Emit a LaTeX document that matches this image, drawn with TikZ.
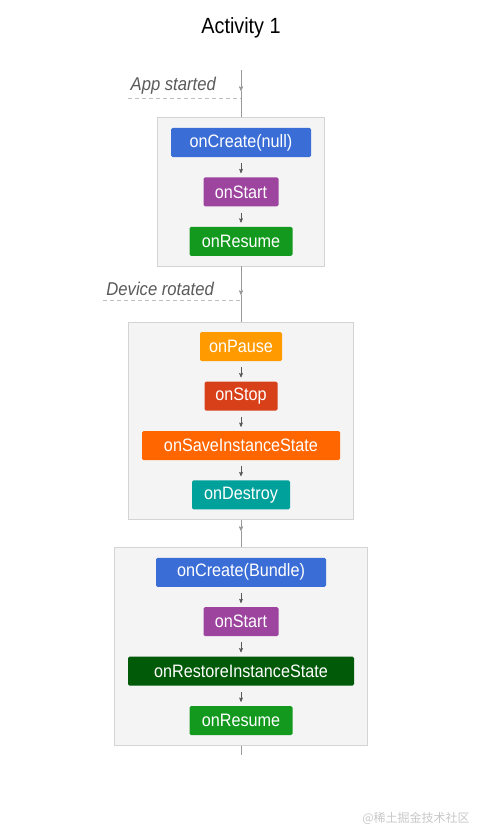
\documentclass[tikz,border=0pt]{standalone}
\usepackage{fontspec}
\setmainfont{Liberation Sans}[FakeStretch=0.9]
\newfontfamily\cjkfont{Noto Sans CJK SC}
\usetikzlibrary{arrows}
\usetikzlibrary{positioning}
\usetikzlibrary{fit,backgrounds}
\definecolor{lcblue}{HTML}{3A6DD6}
\definecolor{lcpurple}{HTML}{9C449E}
\definecolor{lcgreen}{HTML}{139A1E}
\definecolor{lcorange}{HTML}{FF9A00}
\definecolor{lcred}{HTML}{D8401A}
\definecolor{lcsave}{HTML}{FF6600}
\definecolor{lcteal}{HTML}{00A19A}
\definecolor{lcdark}{HTML}{015A07}
\definecolor{lcpanel}{HTML}{F4F4F4}
\definecolor{lcedge}{HTML}{D4D4D4}
\tikzset{
	lc_box/.style = {rectangle, rounded corners=1.5pt, inner sep=0pt,
		minimum height=29pt, text=white, font=\fontsize{18}{18}\selectfont},% callback box
	lc_grp/.style = {rectangle, draw=lcedge, fill=lcpanel, line width=0.8pt,
		inner xsep=13pt, inner ysep=10pt},% panel round a group of callbacks
	lc_lbl/.style = {inner sep=0pt, text=black!65, font=\fontsize{18.5}{18.5}\selectfont\itshape},% event label
	lc_title/.style = {inner sep=0pt, font=\fontsize{22}{22}\selectfont},
	lc_line/.style = {draw=black!40, line width=0.7pt},% main time line
	lc_dash/.style = {draw=black!25, line width=0.9pt, dash pattern=on 4pt off 3pt},
	lc_step/.style = {->, draw=black!65, line width=0.6pt, shorten <=6pt, shorten >=4pt},
	lc_mark/.style = {inner sep=0pt, text=black!22, font=\cjkfont\fontsize{12}{12}\selectfont}
}
\begin{document}
\begin{tikzpicture}[x=1pt,y=1pt,>=stealth']
\useasboundingbox (0,0) rectangle (482,-840);
\node[lc_title] (title) at (241,-28) {Activity 1};
% first start
\node[lc_box, fill=lcblue, minimum width=140pt] (create1) at (241,-142.5) {onCreate(null)};
\node[lc_box, fill=lcpurple, minimum width=75pt, below=20pt of create1] (start1) {onStart};
\node[lc_box, fill=lcgreen, minimum width=103pt, below=20pt of start1] (resume1) {onResume};
% rotation
\node[lc_box, fill=lcorange, minimum width=82pt, below=76pt of resume1] (pause) {onPause};
\node[lc_box, fill=lcred, minimum width=73pt, below=20pt of pause] (stop) {onStop};
\node[lc_box, fill=lcsave, minimum width=198pt, below=20pt of stop] (save) {onSaveInstanceState};
\node[lc_box, fill=lcteal, minimum width=98pt, below=20pt of save] (destroy) {onDestroy};
% new instance
\node[lc_box, fill=lcblue, minimum width=170pt, below=48pt of destroy] (create2) {onCreate(Bundle)};
\node[lc_box, fill=lcpurple, minimum width=75pt, below=20pt of create2] (start2) {onStart};
\node[lc_box, fill=lcdark, minimum width=226pt, below=20pt of start2] (restore) {onRestoreInstanceState};
\node[lc_box, fill=lcgreen, minimum width=103pt, below=20pt of restore] (resume2) {onResume};
\begin{scope}[on background layer]
	\node[lc_grp, fit=(create1)(start1)(resume1)] (grp1) {};
	\node[lc_grp, fit=(pause)(stop)(save)(destroy)] (grp2) {};
	\node[lc_grp, fit=(create2)(start2)(restore)(resume2)] (grp3) {};
\end{scope}
\foreach \a/\b in {create1/start1, start1/resume1, pause/stop, stop/save, save/destroy,
		create2/start2, start2/restore, restore/resume2}
	\draw[lc_step] (\a) -- (\b);
% time line
\coordinate (top) at (241,-70);
\coordinate (tip1) at (241,-91);
\coordinate (tip2) at (241,-295);
\coordinate (tip3) at (241,-531);
\coordinate (bottom) at (241,-755);
\draw[lc_line,->] (top) -- (tip1);
\draw[lc_line] (tip1) -- (grp1.north);
\draw[lc_line,->] (grp1.south) -- (tip2);
\draw[lc_line] (tip2) -- (grp2.north);
\draw[lc_line,->] (grp2.south) -- (tip3);
\draw[lc_line] (tip3) -- (grp3.north);
\draw[lc_line] (grp3.south) -- (bottom);
% events
\node[lc_lbl, anchor=east] (started) at (216,-86) {App started};
\coordinate (dash1) at (128,-98);
\draw[lc_dash] (dash1) -- (dash1 -| top);
\node[lc_lbl, anchor=east] (rotated) at (214,-289) {Device rotated};
\coordinate (dash2) at (103,-300);
\draw[lc_dash] (dash2) -- (dash2 -| top);
\node[lc_mark] (mark) at (416,-818) {@稀土掘金技术社区};
\end{tikzpicture}
\end{document}
